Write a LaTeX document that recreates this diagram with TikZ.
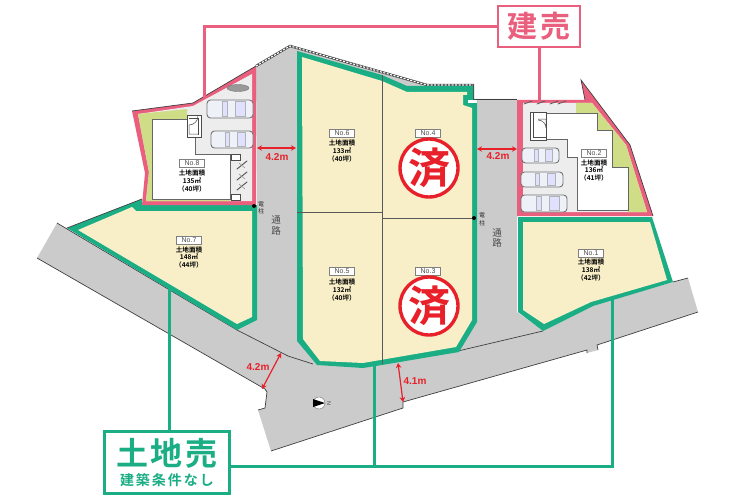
\documentclass[tikz,border=0pt]{standalone}
\usepackage{fontspec}
\setmainfont{Liberation Sans}
\newfontfamily\jpfont{Noto Sans CJK JP}[BoldFont={* Bold}]
\usetikzlibrary{arrows.meta}
\definecolor{lotgreen}{HTML}{1BAE85}
\definecolor{lotpink}{HTML}{EA5F7E}
\definecolor{lotyellow}{HTML}{F8EFC9}
\definecolor{gardengreen}{HTML}{CEDD86}
\definecolor{roadgrey}{HTML}{CBCBCB}
\definecolor{pavedgrey}{HTML}{EDEDED}
\definecolor{dimred}{HTML}{E8202A}
\definecolor{carblue}{HTML}{EEF2F8}
\tikzset{
  edgeline/.style={draw=black!75,line width=0.7pt},
  wallline/.style={draw=black!70,line width=2.4pt},
  walldash/.style={draw=white,line width=1.1pt,dash pattern=on 2pt off 1.5pt},
  lotline/.style={draw=black!65,line width=0.6pt},
  leadpink/.style={draw=lotpink,line width=3pt},
  leadgreen/.style={draw=lotgreen,line width=3pt},
  nobox/.style={draw=black!50,fill=white,line width=0.5pt,minimum width=25pt,minimum height=8pt,inner sep=0pt,font=\fontsize{7}{7}\selectfont,text=black!70},
  lotinfo/.style={align=center,inner sep=0pt,font=\jpfont\bfseries\fontsize{6.6}{7.6}\selectfont},
  dimarrow/.style={{Stealth[length=5pt,width=5.5pt]}-{Stealth[length=5pt,width=5.5pt]},draw=dimred,line width=1.2pt},
  dimtext/.style={text=dimred,font=\bfseries\fontsize{10}{10}\selectfont,inner sep=0pt},
  stamp/.style={circle,draw=dimred,line width=3.4pt,fill=white,minimum size=58pt,inner sep=0pt,text=dimred,font=\jpfont\bfseries\fontsize{42}{42}\selectfont},
  roadtext/.style={text=black!70,inner sep=0pt,font=\jpfont\fontsize{9.5}{10}\selectfont},
  poletext/.style={text=black!80,inner sep=0pt,font=\jpfont\fontsize{6}{6}\selectfont},
  carbody/.style={draw=black!55,fill=carblue,line width=0.9pt,rounded corners=3.5pt},
  carglass/.style={draw=black!30,fill=blue!12,line width=0.4pt},
  doorbox/.style={draw=black!70,fill=white,line width=0.6pt}
}
\newcommand{\carbox}[4]{% x1 y1 x2 y2
  \draw[carbody] (#1,#2) rectangle (#3,#4);
  \draw[carglass] ({#1+0.34*(#3-#1)},{#2+1.5}) rectangle ({#1+0.44*(#3-#1)},{#4-1.5});
  \draw[carglass] ({#1+0.62*(#3-#1)},{#2+1.5}) rectangle ({#1+0.82*(#3-#1)},{#4-1.5});
}
\newcommand{\bikemark}[2]{% x y
  \draw[black!65,line width=1pt,line cap=round] ({#1-5},{#2+4})--({#1+5},{#2-4});
  \draw[black!40,line width=0.6pt] ({#1-3},{#2-2})--({#1+3},{#2+3});
}
\begin{document}
\begin{tikzpicture}[x=1pt,y=-1pt]
  \useasboundingbox (0,0) rectangle (735,500);
  \fill[white] (0,0) rectangle (735,500);

  % road
  \fill[roadgrey] (256,66)--(290,46)--(427,85)--(473,85)--(473,99)--(517,99)--(517,312)--(543,331)--(592,305)--(688,278)--(698,312)--(597,345)--(598,350)--(587,353)--(587,350)--(403,402)--(403,408)--(271,451)--(258,410)--(265,408)--(267,392)--(265,389)--(37,258)--(57,223)--(237,330)--(257,320)--(257,207)--cycle;
  \draw[edgeline] (57,223)--(237,330)--(288,356)--(313,364);
  \draw[edgeline] (37,258)--(265,389)--(267,392)--(265,408)--(258,410);
  \draw[edgeline] (271,451)--(403,408)--(403,402)--(587,350)--(587,353);
  \draw[edgeline] (598,350)--(597,345)--(698,312);
  \draw[edgeline] (458,351)--(543,331);
  \draw[edgeline] (673,282)--(688,278);

  % wall along the top
  \draw[wallline] (256,66)--(290,46)--(427,85)--(473,85)--(473,100);
  \draw[walldash] (256,66)--(290,46)--(427,85)--(473,85);
  \draw[edgeline] (473,99)--(517,99);

  % lot 7
  \fill[lotgreen] (67,228)--(142,199)--(142,205)--(257,205)--(257,320)--(237,330)--cycle;
  \fill[lotyellow] (78,230)--(132,207)--(136,211)--(252,211)--(252,317)--(237,324)--cycle;
  \draw[edgeline] (67,228)--(142,199);

  % lots 3 to 6
  \fill[lotgreen] (297,51)--(382,75)--(407,86)--(473,86)--(473,100)--(477,100)--(477,322)--(459,352)--(382,365)--(363,368)--(317,365)--(297,341)--cycle;
  \fill[lotyellow] (302,57)--(382,81)--(407,92)--(467,92)--(467,95)--(463,95)--(463,105)--(472,108)--(472,320)--(456,347)--(363,363)--(320,361)--(303,339)--cycle;
  \fill[white] (468,100) rectangle (477,103);
  \draw[lotline] (382,75)--(382,364);
  \draw[lotline] (297,212)--(382,212);
  \draw[lotline] (382,218)--(474,218);

  % lot 1
  \fill[lotgreen] (518,217)--(652,217)--(673,282)--(593,306)--(543,331)--(518,312)--cycle;
  \fill[lotyellow] (523,222)--(650,222)--(667,280)--(591,302)--(544,324)--(523,310)--cycle;

  % lot 8
  \fill[lotpink] (132,111)--(193,103)--(256,66)--(256,205)--(142,205)--(145,173)--cycle;
  \draw[edgeline] (132,111)--(193,103)--(256,66);
  \fill[pavedgrey] (138,114)--(193,106)--(252,74)--(252,201)--(146,201)--(149,172)--cycle;
  \fill[gardengreen] (138,114)--(187,109)--(187,119)--(152,119)--(152,198)--(230,198)--(230,201)--(146,201)--(149,172)--cycle;
  \draw[black!60,line width=0.5pt,fill=white] (152,119)--(187,119)--(187,137)--(195,137)--(195,154)--(230,154)--(230,199)--(152,199)--cycle;
  \draw[doorbox] (187,115) rectangle (201,137);
  \draw[black!70,line width=0.5pt] (189,118)--(198,118)--(198,135);
  \draw[black!70,line width=0.5pt] (198,134)--(189,134)--(189,125) arc (90:0:9pt and -9pt);
  \carbox{207}{100}{253}{118}
  \carbox{211}{131}{253}{148}
  \draw[black!55,fill=black!40] (238,88) ellipse (11 and 3.5);
  \draw[doorbox] (231,154) rectangle (240,160);
  \draw[doorbox] (231,194) rectangle (240,200);
  \bikemark{242}{165}
  \bikemark{242}{176}
  \bikemark{242}{186}

  % lot 2
  \fill[lotpink] (517,100)--(585,100)--(581,80)--(630,145)--(653,216)--(517,216)--cycle;
  \draw[edgeline] (585,100)--(581,80)--(630,145)--(653,216);
  \fill[pavedgrey] (523,103)--(592,103)--(626,145)--(647,212)--(523,212)--cycle;
  \fill[gardengreen] (576,103)--(592,103)--(626,145)--(647,212)--(628,212)--(628,167)--(612,167)--(612,130)--(597,130)--(597,113)--(576,113)--cycle;
  \draw[black!60,line width=0.5pt,fill=white] (546,113)--(597,113)--(597,130)--(612,130)--(612,167)--(628,167)--(628,210)--(577,210)--(577,157)--(567,157)--(567,139)--(546,139)--cycle;
  \draw[doorbox] (530,112) rectangle (546,140);
  \draw[black!70,line width=0.5pt] (533,112)--(533,137)--(546,137);
  \draw[black!70,line width=0.5pt] (538,119)--(546,119)--(546,128) arc (0:-90:8pt and -8pt);
  \carbox{522}{148}{559}{163}
  \carbox{521}{172}{563}{187}
  \carbox{521}{195}{567}{212}
  \foreach \bx in {528,541,554,562}
    \draw[black!65,line width=0.8pt,line cap=round] (\bx-4,104)--(\bx+4,101);

  % poles
  \fill[black] (254,206) circle (2);
  \fill[black] (474,218) circle (2);
  \node[poletext] (poleone) at (261,204) {電};
  \node[poletext] (poleonebottom) at (261,211) {柱};
  \node[poletext] (poletwo) at (482,215) {電};
  \node[poletext] (poletwobottom) at (482,223) {柱};
  \node[roadtext] (roadone) at (276,220) {通};
  \node[roadtext] (roadonebottom) at (276,231) {路};
  \node[roadtext] (roadtwo) at (497,233) {通};
  \node[roadtext] (roadtwobottom) at (497,243) {路};

  % lot labels
  \node[nobox] (nofive) at (342,271) {No.5};
  \node[lotinfo] (infofive) at (342,290) {土地面積\\132㎡\\（40坪）};
  \node[nobox] (nosix) at (342,133) {No.6};
  \node[lotinfo] (infosix) at (342,151) {土地面積\\133㎡\\（40坪）};
  \node[nobox] (nofour) at (428,133) {No.4};
  \node[nobox] (nothree) at (428,271) {No.3};
  \node[nobox] (noseven) at (189,240) {No.7};
  \node[lotinfo] (infoseven) at (189,257.5) {土地面積\\148㎡\\（44坪）};
  \node[nobox] (noeight) at (192,163) {No.8};
  \node[lotinfo] (infoeight) at (192,181) {土地面積\\135㎡\\（40坪）};
  \node[nobox] (noone) at (591,253) {No.1};
  \node[lotinfo] (infoone) at (591,270) {土地面積\\138㎡\\（42坪）};
  \node[nobox] (notwo) at (594,153) {No.2};
  \node[lotinfo] (infotwo) at (594,170.5) {土地面積\\136㎡\\（41坪）};
  \node[stamp] (stampfour) at (429,168) {済};
  \node[stamp] (stampthree) at (429,306) {済};

  % widths
  \coordinate (wa) at (257,148);
  \coordinate (wb) at (296,148);
  \draw[dimarrow] (wa)--(wb);
  \node[dimtext] (wtexta) at (277,157) {4.2m};
  \coordinate (wc) at (477,149);
  \coordinate (wd) at (517,149);
  \draw[dimarrow] (wc)--(wd);
  \node[dimtext] (wtextb) at (498,156) {4.2m};
  \coordinate (we) at (281,353);
  \coordinate (wf) at (262,389);
  \draw[dimarrow] (we)--(wf);
  \node[dimtext] (wtextc) at (258,367) {4.2m};
  \coordinate (wg) at (398,363);
  \coordinate (wh) at (403,402);
  \draw[dimarrow] (wg)--(wh);
  \node[dimtext] (wtextd) at (415,381) {4.1m};

  % north mark
  \node[circle,draw=black!50,fill=white,line width=0.5pt,minimum size=12pt,inner sep=0pt] (north) at (319,403) {};
  \fill[black] (313,399)--(325,403)--(313,407)--cycle;
  \node[inner sep=0pt,rotate=-90,text=black!70,font=\fontsize{5.5}{6}\selectfont] (northtext) at (329,403) {N};

  % tags and leaders
  \node[draw=lotpink,line width=2.6pt,fill=white,minimum width=82pt,minimum height=41pt,inner sep=0pt,text=lotpink,font=\jpfont\bfseries\fontsize{30}{30}\selectfont] (tagbuilt) at (539,26.5) {建\hspace{4pt}売};
  \coordinate (builtleft) at (204,98);
  \coordinate (builtright) at (tagbuilt.south|-0,100);
  \draw[leadpink] (tagbuilt.west|-0,27)-|(builtleft);
  \draw[leadpink] (tagbuilt.south)--(builtright);

  \node[draw=lotgreen,line width=2.4pt,fill=white,minimum width=125pt,minimum height=62pt,inner sep=0pt] (tagland) at (167,462.5) {};
  \node[inner sep=0pt,text=lotgreen,font=\jpfont\bfseries\fontsize{32}{32}\selectfont] (tagtitle) at (167,453) {土\hspace{3pt}地\hspace{3pt}売};
  \node[inner sep=0pt,text=lotgreen,font=\jpfont\bfseries\fontsize{14}{14}\selectfont] (tagsub) at (167,480) {建\hspace{2pt}築\hspace{2pt}条\hspace{2pt}件\hspace{2pt}な\hspace{2pt}し};
  \coordinate (landseven) at (169,289);
  \coordinate (landmid) at (374,466);
  \coordinate (landfive) at (374,366);
  \coordinate (landend) at (612,466);
  \coordinate (landone) at (612,300);
  \draw[leadgreen] (169,431)--(landseven);
  \draw[leadgreen] (tagland.east|-landmid)--(landend)--(landone);
  \draw[leadgreen] (landmid)--(landfive);
\end{tikzpicture}
\end{document}
